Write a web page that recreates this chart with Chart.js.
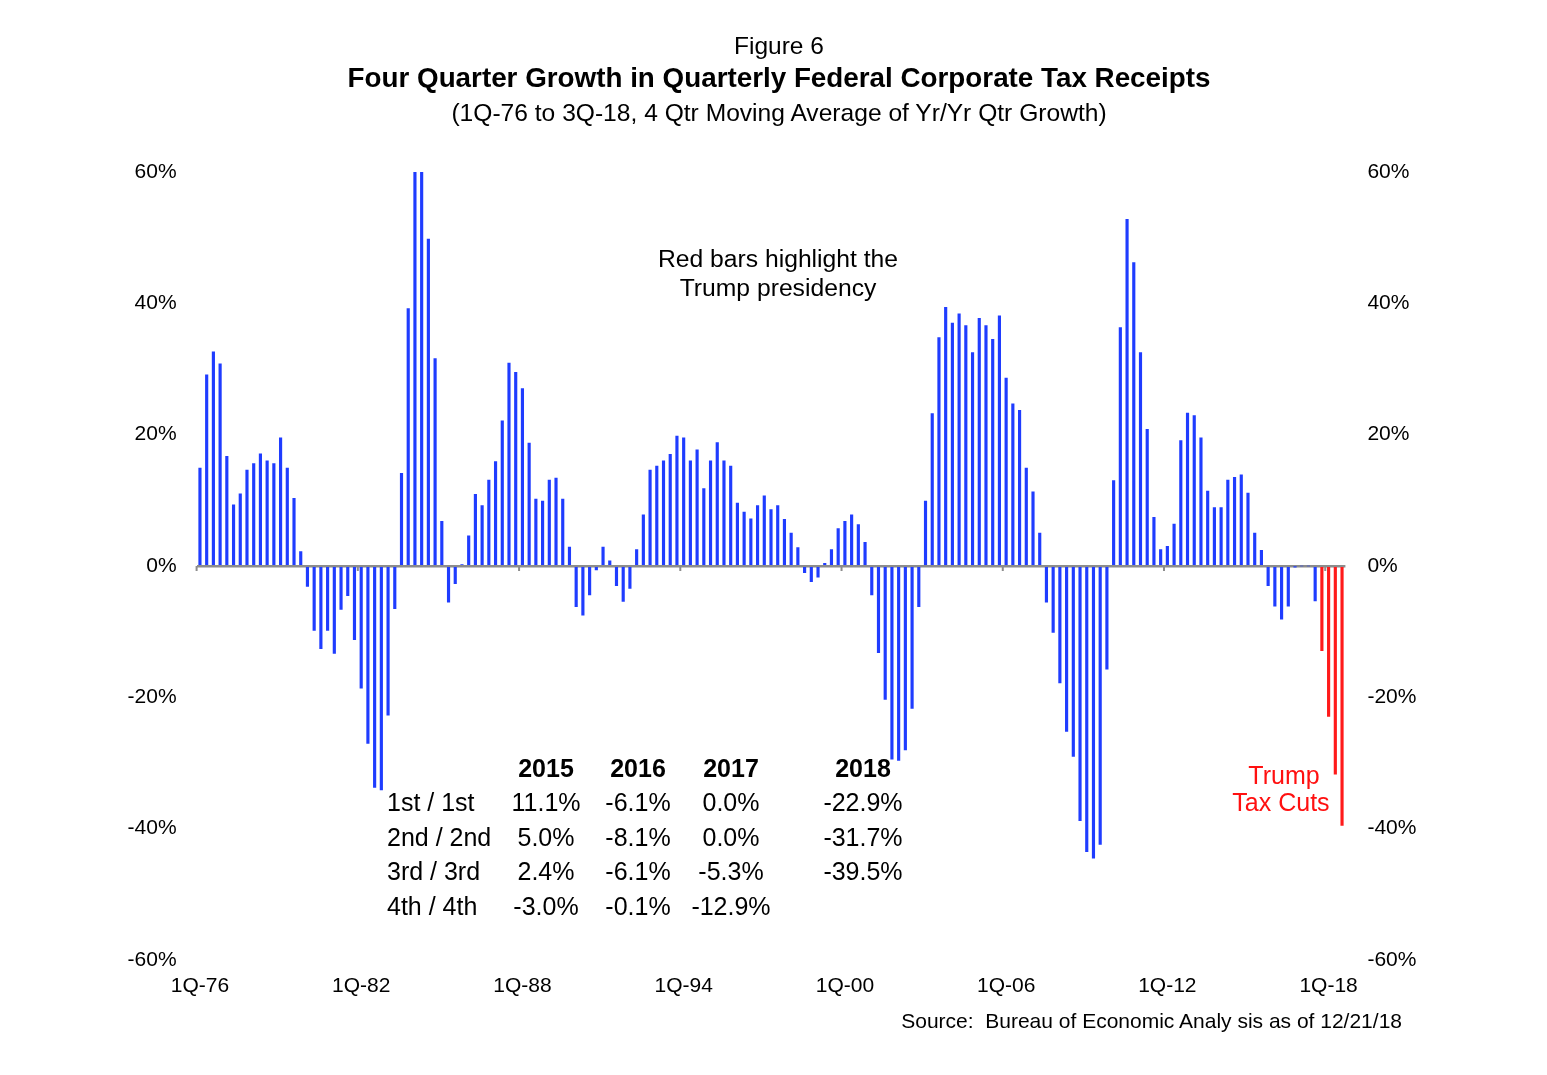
<!DOCTYPE html>
<html>
<head>
<meta charset="utf-8">
<script src="https://cdn.jsdelivr.net/npm/chart.js@4.4.1/dist/chart.umd.min.js"></script>
<style>
  html, body { margin:0; padding:0; background:#fff; }
  #wrap { position:relative; width:1547px; height:1075px; font-family:"Liberation Sans", Arial, Helvetica, sans-serif; color:#000; }
  #c { position:absolute; left:0; top:0; }
  .t { position:absolute; white-space:pre; transform:translate(-50%,-50%); line-height:1; }
  .l { position:absolute; white-space:pre; transform:translate(0,-50%); line-height:1; }
  .r { position:absolute; white-space:pre; transform:translate(-100%,-50%); line-height:1; }
</style>
</head>
<body>
<div id="wrap">
  <canvas id="c" width="1547" height="1075"></canvas>
</div>
<script>
// ---------------- DATA ----------------
const startYear = 1976;
const endLabel = "3Q-18";
const quarters = [];
for (let y = startYear; y <= 2018; y++) {
  for (let q = 1; q <= 4; q++) {
    const lab = q + "Q-" + String(y).slice(2);
    quarters.push(lab);
    if (lab === endLabel) break;
  }
}
// Four quarter growth (%), 1Q-76 .. 3Q-18
const growth = [
  14.9, 29.1, 32.6, 30.8, 16.7, 9.3, 11.0, 14.6,    // 76-77
  15.6, 17.1, 16.0, 15.6, 19.5, 14.9, 10.3, 2.2,    // 78-79
  -3.1, -9.8, -12.6, -9.8, -13.3, -6.6, -4.5, -11.2,// 80-81
  -18.6, -27.0, -33.7, -34.1, -22.7, -6.5, 14.1, 39.2, // 82-83
  60.0, 60.0, 49.8, 31.6, 6.8, -5.5, -2.7, 0.2,     // 84-85
  4.6, 10.9, 9.2, 13.1, 15.9, 22.1, 30.9, 29.5,     // 86-87
  27.0, 18.7, 10.2, 9.9, 13.1, 13.4, 10.2, 2.9,     // 88-89
  -6.2, -7.5, -4.4, -0.6, 2.9, 0.8, -3.0, -5.4,     // 90-91
  -3.4, 2.5, 7.8, 14.6, 15.2, 16.0, 17.0, 19.8,     // 92-93
  19.5, 16.0, 17.7, 11.8, 16.0, 18.8, 16.0, 15.2,   // 94-95
  9.6, 8.2, 7.2, 9.2, 10.7, 8.6, 9.2, 7.1,          // 96-97
  5.0, 2.8, -1.0, -2.4, -1.7, 0.4, 2.5, 5.7,        // 98-99
  6.8, 7.8, 6.3, 3.6, -4.4, -13.2, -20.3, -29.4,    // 00-01
  -29.6, -28.0, -21.7, -6.2, 9.9, 23.2, 34.8, 39.4, // 02-03
  37.0, 38.4, 36.6, 32.5, 37.7, 36.6, 34.5, 38.1,   // 04-05
  28.6, 24.7, 23.7, 14.9, 11.3, 5.0, -5.5, -10.1,   // 06-07
  -17.8, -25.2, -29.0, -38.8, -43.5, -44.5, -42.4, -15.7, // 08-09
  13.0, 36.3, 52.8, 46.2, 32.5, 20.8, 7.4, 2.5,     // 10-11
  3.0, 6.4, 19.1, 23.3, 22.9, 19.5, 11.4, 8.9,      // 12-13
  8.9, 13.1, 13.5, 13.9, 11.1, 5.0, 2.4, -3.0,      // 14-15
  -6.1, -8.1, -6.1, -0.1, 0.0, 0.0, -5.3, -12.9,    // 16-17
  -22.9, -31.7, -39.5                               // 18
];
const redFrom = "4Q-17";
const xTickLabels = ["1Q-76","1Q-82","1Q-88","1Q-94","1Q-00","1Q-06","1Q-12","1Q-18"];
const yTicks = [-60, -40, -20, 0, 20, 40, 60];

const tableYears = ["2015", "2016", "2017", "2018"];
const tableRowLabels = ["1st / 1st", "2nd / 2nd", "3rd / 3rd", "4th / 4th"];
const tableValues = [
  ["11.1%", "-6.1%", "0.0%", "-22.9%"],
  ["5.0%", "-8.1%", "0.0%", "-31.7%"],
  ["2.4%", "-6.1%", "-5.3%", "-39.5%"],
  ["-3.0%", "-0.1%", "-12.9%", ""]
];

// ---------------- TEXT ----------------
const wrap = document.getElementById('wrap');
function addText(cls, txt, x, y, style) {
  const d = document.createElement('div');
  d.className = cls; d.textContent = txt;
  d.style.left = x + 'px'; d.style.top = y + 'px';
  Object.assign(d.style, style || {});
  wrap.appendChild(d);
  return d;
}
addText('t', 'Figure 6', 779, 46, {fontSize:'24.5px'});
addText('t', 'Four Quarter Growth in Quarterly Federal Corporate Tax Receipts', 779, 78, {fontSize:'27.8px', fontWeight:'bold'});
addText('t', '(1Q-76 to 3Q-18, 4 Qtr Moving Average of Yr/Yr Qtr Growth)', 779, 113, {fontSize:'24.6px'});
addText('t', 'Red bars highlight the', 778, 259, {fontSize:'24.7px'});
addText('t', 'Trump presidency', 778, 288, {fontSize:'24.7px'});
addText('t', 'Trump', 1284, 775, {fontSize:'25px', color:'#ff1010'});
addText('t', 'Tax Cuts', 1281, 802, {fontSize:'25px', color:'#ff1010'});
addText('r', 'Source:  Bureau of Economic Analy sis as of 12/21/18', 1402, 1020, {fontSize:'21px'});

const colX = [546, 638, 731, 863];
const rowY = [802, 837, 871, 906];
tableYears.forEach((yr, j) => addText('t', yr, colX[j], 768, {fontSize:'25px', fontWeight:'bold'}));
tableRowLabels.forEach((lab, i) => {
  addText('l', lab, 387, rowY[i], {fontSize:'25px'});
  tableValues[i].forEach((v, j) => { if (v) addText('t', v, colX[j], rowY[i], {fontSize:'25px'}); });
});

// ---------------- CHART ----------------
const redIdx = quarters.indexOf(redFrom);
const colors = growth.map((v, i) => i >= redIdx ? '#ff1a1a' : '#1f3cff');

const FONT = '"Liberation Sans", Arial, Helvetica, sans-serif';
const axisTicks = {
  id: 'axisTicks',
  afterDatasetsDraw(chart) {
    const xs = chart.scales.x, ys = chart.scales.y, ctx = chart.ctx;
    const y0 = ys.getPixelForValue(0);
    const half = (xs.getPixelForValue(1) - xs.getPixelForValue(0)) / 2;
    ctx.save();
    ctx.strokeStyle = '#8c8c8c';
    ctx.lineWidth = 2;
    xTickLabels.forEach(lab => {
      const i = quarters.indexOf(lab);
      const x = xs.getPixelForValue(i) - half;
      ctx.beginPath(); ctx.moveTo(x, y0); ctx.lineTo(x, y0 + 5); ctx.stroke();
    });
    ctx.restore();
  }
};

new Chart(document.getElementById('c'), {
  type: 'bar',
  data: {
    labels: quarters,
    datasets: [{
      data: growth,
      backgroundColor: colors,
      borderWidth: 0,
      barThickness: 2.5
    }]
  },
  options: {
    responsive: false,
    animation: false,
    devicePixelRatio: 1,
    layout: { padding: { top: 172, left: 0, right: 0, bottom: 0 } },
    plugins: { legend: { display: false }, tooltip: { enabled: false } },
    scales: {
      x: {
        type: 'category',
        offset: true,
        grid: { display: false, drawTicks: false },
        border: { display: false },
        ticks: {
          autoSkip: false, maxRotation: 0, minRotation: 0, padding: 14,
          color: '#000', font: { family: FONT, size: 21 },
          callback: (v, i) => xTickLabels.includes(quarters[i]) ? quarters[i] : null
        },
        afterFit: s => { s.height = 1075 - 960; }
      },
      y: {
        position: 'left',
        min: -60, max: 60,
        afterBuildTicks: s => { s.ticks = yTicks.map(v => ({ value: v })); },
        grid: {
          drawTicks: false,
          color: c => (c.tick && c.tick.value === 0) ? '#8c8c8c' : 'rgba(0,0,0,0)',
          lineWidth: c => (c.tick && c.tick.value === 0) ? 2.5 : 0
        },
        border: { display: false },
        ticks: { padding: 20, color: '#000', font: { family: FONT, size: 21 }, callback: v => v + '%' },
        afterFit: s => { s.width = 196.6; }
      },
      y2: {
        position: 'right',
        min: -60, max: 60,
        afterBuildTicks: s => { s.ticks = yTicks.map(v => ({ value: v })); },
        grid: { display: false, drawTicks: false },
        border: { display: false },
        ticks: { padding: 22, color: '#000', font: { family: FONT, size: 21 }, callback: v => v + '%' },
        afterFit: s => { s.width = 1547 - 1345.4; }
      }
    }
  },
  plugins: [axisTicks]
});
</script>
</body>
</html>
